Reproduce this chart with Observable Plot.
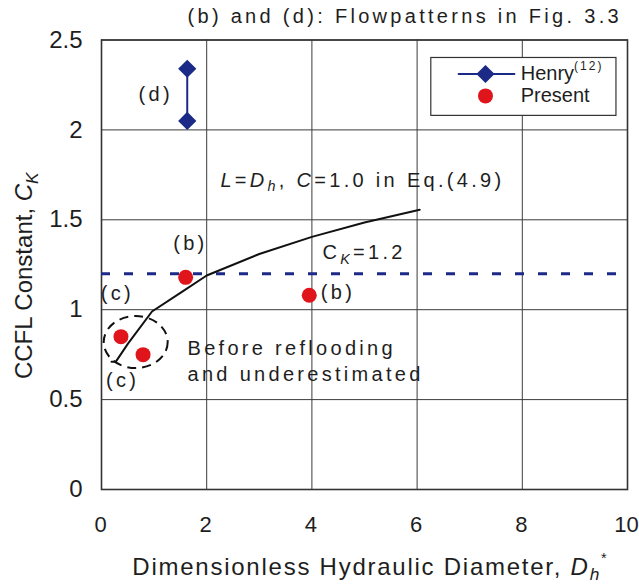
<!DOCTYPE html>
<html>
<head>
<meta charset="utf-8">
<script src="https://cdn.jsdelivr.net/npm/d3@7"></script>
<script src="https://cdn.jsdelivr.net/npm/@observablehq/plot@0.6"></script>
<style>
  body { margin: 0; background: #fff; }
  g[aria-description="note"] text { letter-spacing: 3.3px; }
  g[aria-description="xtitle"] text { letter-spacing: 1.75px; }
</style>
</head>
<body>
<div id="chart"></div>
<script>
// Henry (12): two CCFL constants measured at the same hydraulic diameter
const henryDh = [1.63, 1.63];
const henryCk = [2.05, 2.34];

// Present data
const presentDh = [0.37, 0.79, 1.6, 3.95];
const presentCk = [0.85, 0.75, 1.18, 1.08];

// Correlation curve for L = Dh, C = 1.0 in Eq.(4.9)
const curveDh = [0.19, 0.27, 0.5, 0.96, 1.5, 2.0, 3.0, 4.0, 5.0, 6.05];
const curveCk = [0.71, 0.71, 0.81, 0.99, 1.094, 1.19, 1.31, 1.405, 1.485, 1.556];

// Constant CK value
const ckConst = [1.2];

// Axis ticks
const xTicks = [0, 2, 4, 6, 8, 10];
const yTicks = [0, 0.5, 1, 1.5, 2, 2.5];

const henry = henryDh.map((d, i) => ({dh: d, ck: henryCk[i]}));
const present = presentDh.map((d, i) => ({dh: d, ck: presentCk[i]}));
const curve = curveDh.map((d, i) => ({dh: d, ck: curveCk[i]}));

const navy = "#1b2a86";
const red = "#e0141b";
const ink = "#1e1e1e";
const note = {fontSize: 20, fill: ink, ariaDescription: "note"};

const plot = Plot.plot({
  width: 639,
  height: 585,
  marginLeft: 101,
  marginRight: 12,
  marginTop: 39.5,
  marginBottom: 96,
  x: {domain: [0, 10]},
  y: {domain: [0, 2.5]},
  style: {fontFamily: "'Liberation Sans', Arial, sans-serif", fontSize: "24px", color: ink, background: "#fff", overflow: "visible"},
  marks: [
    Plot.gridX(xTicks, {stroke: "#3c3c3c", strokeOpacity: 1, strokeWidth: 1}),
    Plot.gridY(yTicks, {stroke: "#3c3c3c", strokeOpacity: 1, strokeWidth: 1}),
    Plot.frame({stroke: "#333", strokeWidth: 1.6}),
    Plot.axisX(xTicks, {tickSize: 0, tickPadding: 27, label: null, tickFormat: d => String(d), fontSize: 22, dx: -1}),
    Plot.axisY(yTicks, {tickSize: 0, tickPadding: 19, label: null, tickFormat: d => String(d), fontSize: 24}),

    // CK = 1.2
    Plot.ruleY(ckConst, {stroke: navy, strokeWidth: 3, strokeDasharray: "9,14"}),

    // correlation curve
    Plot.line(curve, {x: "dh", y: "ck", stroke: "#111", strokeWidth: 2}),

    // dashed ring round the before-reflooding points
    Plot.dot([{dh: 0.65, ck: 0.82}], {x: "dh", y: "ck", r: 29, fill: "none", stroke: "#111", strokeWidth: 2, strokeDasharray: "9,6", ariaDescription: "ring"}),

    // Henry
    Plot.line(henry, {x: "dh", y: "ck", stroke: navy, strokeWidth: 2}),
    Plot.dot(henry, {x: "dh", y: "ck", symbol: "diamond2", r: 8.2, fill: navy, stroke: "none"}),

    // Present
    Plot.dot(present, {x: "dh", y: "ck", r: 7.5, fill: red, stroke: "none"}),

    // flow pattern labels
    Plot.text(["(d)"], {x: 1.03, y: 2.194, ...note}),
    Plot.text(["(b)"], {x: 1.69, y: 1.367, ...note}),
    Plot.text(["(b)"], {x: 4.17, y: 1.094, textAnchor: "start", ...note}),
    Plot.text(["(c)"], {x: 0.30, y: 1.089, ...note}),
    Plot.text(["(c)"], {x: 0.40, y: 0.606, ...note}),

    // annotations
    Plot.text(["(b) and (d): Flowpatterns in Fig. 3.3"], {x: 1.635, y: 2.63, textAnchor: "start", ...note}),
    Plot.text(["{i:L}={i:D}{isub:h}, {i:C}=1.0 in Eq.(4.9)"], {x: 2.26, y: 1.72, textAnchor: "start", ...note}),
    Plot.text(["C{isub:K}=1.2"], {x: 4.20, y: 1.317, textAnchor: "start", ...note}),
    Plot.text(["Before reflooding"], {x: 1.635, y: 0.783, textAnchor: "start", ...note}),
    Plot.text(["and underestimated"], {x: 1.635, y: 0.639, textAnchor: "start", ...note}),

    // legend
    Plot.rect([{x1: 6.27, x2: 9.79, y1: 2.078, y2: 2.40}], {x1: "x1", x2: "x2", y1: "y1", y2: "y2", fill: "#fff", stroke: "#333", strokeWidth: 1.2}),
    Plot.line([{dh: 6.79, ck: 2.311}, {dh: 7.85, ck: 2.311}], {x: "dh", y: "ck", stroke: navy, strokeWidth: 2}),
    Plot.dot([{dh: 7.30, ck: 2.311}], {x: "dh", y: "ck", symbol: "diamond2", r: 8.2, fill: navy, stroke: "none"}),
    Plot.dot([{dh: 7.30, ck: 2.189}], {x: "dh", y: "ck", r: 7.5, fill: red, stroke: "none"}),
    Plot.text(["Henry{sup:(12)}"], {x: 7.97, y: 2.311, textAnchor: "start", fontSize: 20, fill: ink}),
    Plot.text(["Present"], {x: 7.97, y: 2.189, textAnchor: "start", fontSize: 20, fill: ink}),

    // axis titles
    Plot.text(["Dimensionless Hydraulic Diameter, {i:D}{isub:h}{sup:*}"], {frameAnchor: "bottom", textAnchor: "middle", dy: 85, dx: 6, fontSize: 24, fill: ink, ariaDescription: "xtitle"}),
    Plot.text(["CCFL Constant, {i:C}{isub:K}"], {frameAnchor: "left", textAnchor: "middle", rotate: -90, dx: -77, dy: 11, fontSize: 24, fill: ink})
  ]
});

document.getElementById("chart").appendChild(plot);

// turn the {style:text} markup into italic / subscript / superscript tspans
const SVGNS = "http://www.w3.org/2000/svg";
plot.querySelectorAll("text").forEach(t => {
  const s = t.textContent;
  if (!s.includes("{")) return;
  const base = parseFloat(getComputedStyle(t).fontSize) || 18;
  const parts = [];
  const re = /\{(\w+):([^}]*)\}/g;
  let last = 0, m;
  while ((m = re.exec(s))) {
    if (m.index > last) parts.push(["", s.slice(last, m.index)]);
    parts.push([m[1], m[2]]);
    last = re.lastIndex;
  }
  if (last < s.length) parts.push(["", s.slice(last)]);
  t.textContent = "";
  let shift = 0;
  for (const [kind, str] of parts) {
    const ts = document.createElementNS(SVGNS, "tspan");
    ts.textContent = str;
    let target = 0;
    if (kind.startsWith("i")) ts.setAttribute("font-style", "italic");
    if (kind.endsWith("sub")) { target = 0.24 * base; ts.setAttribute("font-size", 0.72 * base); }
    if (kind.endsWith("sup")) { target = -0.5 * base; ts.setAttribute("font-size", 0.6 * base); ts.setAttribute("letter-spacing", "2px"); }
    if (target !== shift) ts.setAttribute("dy", target - shift);
    shift = target;
    t.appendChild(ts);
  }
});

// stretch the dashed ring into its ellipse
plot.querySelectorAll('g[aria-description="ring"] circle').forEach(c => {
  const e = document.createElementNS(SVGNS, "ellipse");
  for (const a of c.attributes) if (a.name !== "r") e.setAttribute(a.name, a.value);
  e.setAttribute("rx", 32);
  e.setAttribute("ry", 26);
  c.replaceWith(e);
});
</script>
</body>
</html>
